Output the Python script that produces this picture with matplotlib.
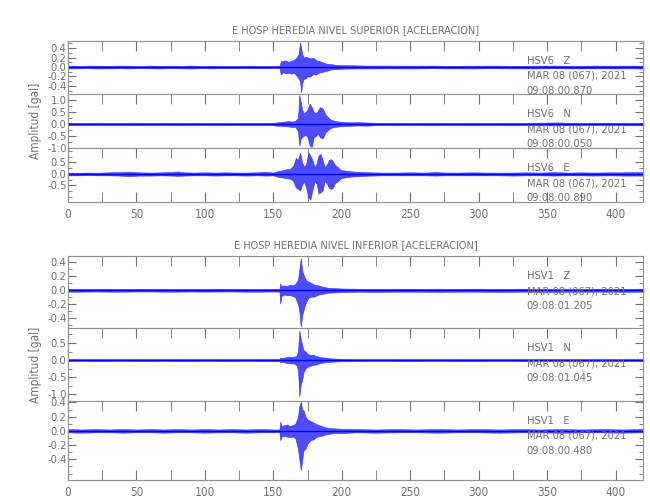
import matplotlib
matplotlib.use("Agg")
import matplotlib.pyplot as plt
from matplotlib.ticker import MultipleLocator, AutoMinorLocator, FormatStrFormatter

plt.rcParams['font.family'] = ['DejaVu Sans']
plt.rcParams['font.stretch'] = 'condensed'
plt.rcParams['axes.unicode_minus'] = False

GRAY = '#707070'
TRACE = '#0000ff'

# --- envelopes: (time s, upper, lower) in gal ---
hsv6_z = [(0, .03, -.03), (8, .025, -.028), (15, .03, -.025), (22, .028, -.03), (30, .025, -.028),
          (38, .03, -.025), (45, .028, -.03), (52, .025, -.025), (60, .03, -.028), (68, .025, -.03),
          (75, .028, -.025), (82, .025, -.028), (90, .03, -.03), (98, .025, -.025), (105, .028, -.028),
          (112, .025, -.025), (120, .022, -.025), (128, .025, -.022), (135, .028, -.025), (142, .022, -.025),
          (150, .025, -.022), (154.5, .025, -.025),
          (155.5, .12, -.16), (157, .13, -.11), (159, .14, -.13), (161, .11, -.12), (163, .13, -.14),
          (165, .15, -.12), (167, .2, -.18), (168.5, .28, -.25), (169.5, .52, -.3), (170.3, .4, -.53),
          (171, .28, -.35), (172, .2, -.25), (173.5, .22, -.24), (175, .2, -.2), (177, .18, -.2),
          (179, .2, -.15), (181, .15, -.16), (183, .13, -.12), (186, .1, -.1), (189, .07, -.08),
          (192, .06, -.05), (196, .045, -.045), (200, .04, -.035),
          (210, .035, -.03), (220, .03, -.03), (235, .03, -.028), (250, .028, -.03), (265, .03, -.025),
          (280, .025, -.028), (295, .028, -.03), (310, .03, -.025), (325, .025, -.028), (340, .028, -.03),
          (355, .03, -.025), (370, .025, -.03), (385, .03, -.028), (400, .028, -.03), (410, .03, -.028),
          (420, .028, -.03)]

hsv6_n = [(0, .04, -.04), (10, .035, -.04), (20, .04, -.035), (30, .04, -.04), (40, .035, -.04),
          (50, .04, -.035), (60, .035, -.04), (70, .04, -.035), (80, .035, -.04), (90, .04, -.04),
          (100, .035, -.035), (110, .04, -.04), (120, .035, -.035), (130, .04, -.04), (140, .035, -.04),
          (148, .04, -.035),
          (152, .06, -.07), (155, .08, -.07), (158, .1, -.09), (161, .12, -.1), (164, .1, -.12),
          (166, .13, -.11), (168, .25, -.3), (169, 1.2, -.9), (170, .9, -.6), (171, .6, -.55),
          (172, .45, -.5), (173.5, .5, -.45), (175, .6, -.55), (176.5, .85, -.9), (178, .7, -.95),
          (179.5, .5, -.55), (181, .45, -.5), (182.5, .55, -.4), (184, .7, -.55), (186, .65, -.6),
          (188, .4, -.35), (190, .28, -.25), (192, .18, -.16), (195, .12, -.12), (198, .1, -.1),
          (202, .08, -.08), (207, .07, -.07), (212, .08, -.06), (218, .06, -.07), (225, .05, -.05),
          (235, .045, -.04), (250, .04, -.04), (265, .045, -.04), (280, .04, -.04), (295, .04, -.045),
          (310, .04, -.04), (325, .045, -.04), (340, .05, -.045), (350, .06, -.055), (358, .065, -.06),
          (366, .05, -.05), (380, .045, -.045), (395, .05, -.045), (410, .045, -.05), (420, .045, -.045)]

hsv6_e = [(0, .06, -.06), (8, .05, -.06), (15, .06, -.05), (22, .055, -.06), (30, .07, -.06),
          (38, .08, -.07), (45, .1, -.09), (52, .07, -.07), (60, .06, -.07), (68, .07, -.06),
          (75, .08, -.07), (80, .11, -.08), (85, .07, -.07), (92, .06, -.06), (100, .07, -.06),
          (108, .06, -.07), (115, .07, -.06), (122, .06, -.06), (130, .06, -.07), (138, .07, -.06),
          (145, .09, -.07), (150, .06, -.06),
          (153, .12, -.12), (156, .15, -.14), (159, .2, -.18), (162, .22, -.2), (164.5, .35, -.3),
          (166.5, .7, -.6), (168, .6, -.65), (169.5, .92, -.72), (171, .5, -.45), (172.5, .3, -.35),
          (174, .45, -.6), (175.5, .95, -1.0), (177, .8, -1.12), (178.5, .6, -.7), (180, .3, -.35),
          (181.5, .45, -.4), (183, .8, -.85), (184.5, .87, -.8), (186, .6, -.7), (187.5, .3, -.3),
          (189, .4, -.4), (190.5, .6, -.6), (192, .65, -.65), (193.5, .55, -.6), (195, .4, -.4),
          (197, .3, -.32), (199, .18, -.2), (202, .15, -.15), (206, .12, -.12), (210, .1, -.1),
          (215, .08, -.08), (222, .07, -.07),
          (230, .06, -.06), (240, .06, -.06), (250, .07, -.06), (260, .06, -.06), (268, .08, -.07),
          (276, .06, -.06), (285, .06, -.06), (295, .07, -.06), (305, .06, -.06), (315, .06, -.06),
          (325, .06, -.07), (335, .07, -.06), (345, .06, -.06), (355, .08, -.07), (365, .06, -.06),
          (375, .07, -.06), (385, .06, -.07), (395, .07, -.06), (405, .07, -.07), (412, .08, -.07),
          (420, .07, -.07)]

hsv1_z = [(0, .02, -.02), (10, .018, -.02), (20, .02, -.018), (30, .02, -.02), (40, .018, -.02),
          (50, .02, -.018), (60, .018, -.018), (70, .02, -.02), (80, .018, -.02), (90, .02, -.018),
          (100, .018, -.02), (110, .02, -.018), (120, .018, -.018), (130, .02, -.02), (140, .018, -.02),
          (150, .02, -.018), (154.5, .02, -.02),
          (155, .1, -.19), (156, .06, -.08), (158, .07, -.06), (160, .06, -.07), (162, .08, -.07),
          (164, .07, -.08), (166, .09, -.1), (168, .15, -.2), (169, .3, -.3), (170, .46, -.52),
          (171, .28, -.36), (172.5, .2, -.25), (174, .14, -.16), (176, .12, -.1), (178, .1, -.09),
          (180, .08, -.09), (183, .07, -.06), (186, .05, -.05), (190, .035, -.035), (195, .03, -.03),
          (200, .025, -.025),
          (210, .022, -.02), (225, .02, -.022), (240, .022, -.02), (255, .02, -.02), (270, .022, -.022),
          (285, .02, -.02), (300, .022, -.02), (315, .02, -.022), (330, .022, -.02), (345, .02, -.02),
          (360, .022, -.022), (375, .02, -.02), (390, .022, -.02), (405, .02, -.022), (420, .022, -.02)]

hsv1_n = [(0, .03, -.03), (10, .03, -.025), (20, .025, -.03), (30, .03, -.03), (40, .03, -.025),
          (50, .025, -.03), (60, .03, -.03), (70, .03, -.025), (80, .025, -.03), (90, .03, -.03),
          (100, .03, -.025), (110, .025, -.03), (120, .03, -.03), (130, .03, -.025), (140, .025, -.03),
          (150, .03, -.03), (154.5, .03, -.03),
          (155, .07, -.07), (157, .06, -.05), (159, .08, -.08), (161, .1, -.09), (163, .09, -.1),
          (165, .1, -.1), (167, .12, -.15), (168, .25, -.3), (169, .87, -1.06), (170, .6, -.7),
          (171, .45, -.6), (172, .3, -.35), (173.5, .25, -.25), (175, .18, -.2), (177, .15, -.17),
          (179, .16, -.14), (181, .12, -.13), (184, .09, -.09), (188, .07, -.06), (192, .05, -.05),
          (196, .04, -.04), (200, .035, -.035),
          (210, .03, -.03), (225, .03, -.025), (240, .025, -.03), (255, .03, -.03), (270, .03, -.025),
          (285, .025, -.03), (300, .03, -.03), (315, .03, -.025), (330, .025, -.03), (345, .03, -.03),
          (360, .03, -.025), (375, .025, -.03), (390, .03, -.03), (405, .03, -.025), (420, .025, -.03)]

hsv1_e = [(0, .025, -.02), (10, .02, -.025), (20, .025, -.02), (30, .02, -.02), (40, .025, -.025),
          (50, .02, -.02), (60, .025, -.02), (70, .02, -.025), (80, .025, -.02), (90, .02, -.02),
          (100, .025, -.025), (110, .02, -.02), (120, .025, -.02), (130, .02, -.025), (140, .025, -.02),
          (150, .02, -.02), (154.5, .02, -.02),
          (155, .13, -.13), (156, .07, -.08), (158, .08, -.07), (160, .09, -.08), (162, .07, -.09),
          (164, .08, -.08), (166, .1, -.1), (168, .2, -.25), (169, .35, -.4), (170, .41, -.55),
          (171, .3, -.42), (172, .29, -.27), (173.5, .2, -.25), (175, .16, -.18), (177, .14, -.13),
          (179, .12, -.12), (182, .09, -.08), (185, .07, -.07), (188, .05, -.05), (191, .04, -.04),
          (195, .035, -.03), (200, .03, -.03),
          (210, .025, -.02), (225, .02, -.025), (240, .025, -.02), (255, .02, -.02), (270, .025, -.025),
          (285, .02, -.02), (300, .025, -.02), (315, .02, -.025), (330, .025, -.02), (345, .02, -.02),
          (360, .025, -.025), (375, .02, -.02), (390, .025, -.02), (405, .02, -.025), (420, .025, -.02)]

titles = ['E HOSP HEREDIA NIVEL SUPERIOR [ACELERACION]',
          'E HOSP HEREDIA NIVEL INFERIOR [ACELERACION]']
labels = [['HSV6   Z', 'HSV6   N', 'HSV6   E'], ['HSV1   Z', 'HSV1   N', 'HSV1   E']]
start_times = [['09:08:00.870', '09:08:00.050', '09:08:00.890'],
               ['09:08:01.205', '09:08:01.045', '09:08:00.480']]
date_label = 'MAR 08 (067), 2021'
traces = [[hsv6_z, hsv6_n, hsv6_e], [hsv1_z, hsv1_n, hsv1_e]]
y_limits = [[(-0.57, 0.55), (-1.0, 1.25), (-1.22, 1.13)],
            [(-0.54, 0.49), (-1.2, 0.94), (-0.69, 0.42)]]
y_ticks = [[[-0.4, -0.2, 0.0, 0.2, 0.4], [-1.0, -0.5, 0.0, 0.5, 1.0], [-0.5, 0.0, 0.5]],
           [[-0.4, -0.2, 0.0, 0.2, 0.4], [-1.0, -0.5, 0.0, 0.5], [-0.4, -0.2, 0.0, 0.2, 0.4]]]

# panel edges in pixels (top, bottom) for each group
panel_px = [[(41, 94), (94, 148), (148, 202)],
            [(256, 328), (328, 401), (401, 480)]]

W, H = 650, 500
fig = plt.figure(figsize=(6.5, 5), dpi=100)
left, right = 68, 643

for g in range(2):
    for p in range(3):
        top, bot = panel_px[g][p]
        ax = fig.add_axes([left / W, 1 - bot / H, (right - left) / W, (bot - top) / H])
        data = traces[g][p]
        t = [r[0] for r in data]
        hi = [r[1] for r in data]
        lo = [r[2] for r in data]
        ax.fill_between(t, lo, hi, facecolor='#4d4dff', edgecolor='#2a2aff', lw=0.4, zorder=2)
        ax.axhline(0, color=TRACE, lw=1.0, zorder=2)

        ax.set_xlim(0, 420)
        ax.set_ylim(*y_limits[g][p])
        ax.set_yticks(y_ticks[g][p])
        ax.yaxis.set_major_formatter(FormatStrFormatter('%.1f'))
        ax.yaxis.set_minor_locator(AutoMinorLocator(2))
        ax.xaxis.set_major_locator(MultipleLocator(50))
        ax.xaxis.set_minor_locator(MultipleLocator(25))

        last = (p == 2)
        ax.tick_params(axis='both', which='both', direction='in', colors=GRAY,
                       labelcolor=GRAY, labelsize=8, top=True, right=True,
                       bottom=last, labelbottom=last, pad=1)
        ax.tick_params(axis='x', which='both', length=7, pad=4, labelsize=8.5)
        ax.tick_params(axis='y', which='major', length=6)
        ax.tick_params(axis='y', which='minor', length=3)
        for s in ax.spines.values():
            s.set_color('#909090')
            s.set_linewidth(0.8)

        for dy, txt in zip((20, 35, 50), (labels[g][p], date_label, start_times[g][p])):
            ax.annotate(txt, xy=(335, 1), xycoords=('data', 'axes fraction'),
                        xytext=(0, -dy), textcoords='offset pixels',
                        ha='left', va='center', fontsize=8, color=GRAY, zorder=5)

        if p == 0:
            ax.set_title(titles[g], fontsize=7.8, color=GRAY, pad=6)
        if p == 1:
            ax.set_ylabel('Amplitud [gal]', fontsize=8.5, color=GRAY, labelpad=4)

fig.savefig('out.png', dpi=100)
